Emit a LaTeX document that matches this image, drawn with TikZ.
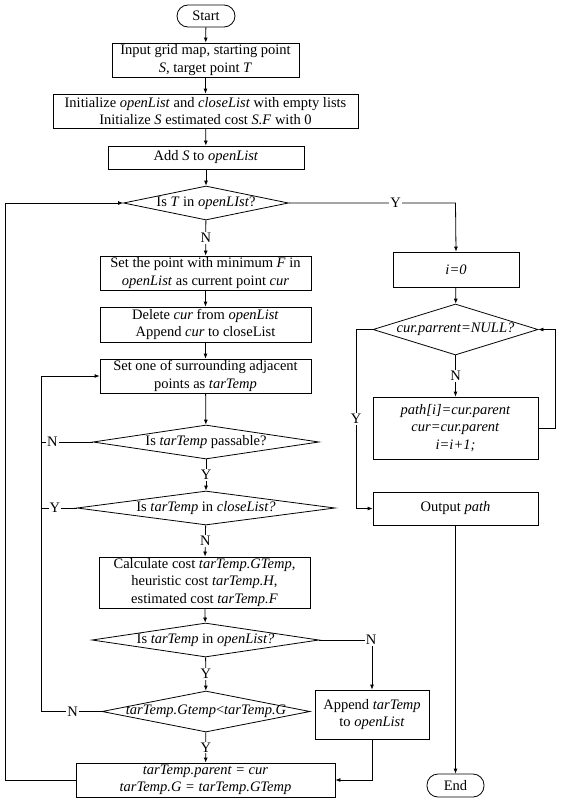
\documentclass[tikz,border=0pt]{standalone}
\usepackage{fontspec}
\setmainfont{Liberation Serif}
\usetikzlibrary{shapes.geometric,arrows.meta}
\begin{document}
\begin{tikzpicture}[x=1pt,y=-1pt,
  every node/.style={font=\fontsize{14.5}{17.5}\selectfont},
  box/.style={draw, line width=0.8pt, align=center, inner sep=0pt},
  term/.style={draw, line width=0.8pt, rounded corners=11pt, inner sep=0pt},
  dia/.style={draw, line width=0.8pt, diamond, inner sep=0pt, aspect=1},
  lab/.style={fill=white, inner sep=1pt},
  conn/.style={line width=0.8pt, -{Latex[length=5pt,width=4pt]}},
  plain/.style={line width=0.8pt}]
\useasboundingbox (0,0) rectangle (561,806);
% left column
\node[term, minimum width=58pt, minimum height=22pt] (start) at (206,16) {Start};
\node[box, minimum width=187pt, minimum height=34pt] (b1) at (205.5,60) {Input grid map, starting point\\\textit{S}, target point \textit{T}};
\node[box, minimum width=305pt, minimum height=34pt] (b2) at (205.5,111) {Initialize \textit{openList} and \textit{closeList} with empty lists\\Initialize \textit{S} estimated cost \textit{S.F} with 0};
\node[box, minimum width=196pt, minimum height=23pt] (b3) at (206,157.5) {Add \textit{S} to \textit{openList}};
\node[dia, minimum width=165pt, minimum height=34pt] (d1) at (206,203) {\makebox[0pt]{Is \textit{T} in \textit{openLIst}?}};
\node[box, minimum width=211pt, minimum height=34pt] (b4) at (205.5,273) {Set the point with minimum \textit{F} in\\\textit{openList} as current point \textit{cur}};
\node[box, minimum width=211pt, minimum height=35pt] (b5) at (205.5,324.5) {Delete \textit{cur} from \textit{openList}\\Append \textit{cur} to closeList};
\node[box, minimum width=211pt, minimum height=34pt] (b6) at (205.5,376) {Set one of surrounding adjacent\\points as \textit{tarTemp}};
\node[dia, minimum width=226pt, minimum height=34pt] (d3) at (206,442) {\makebox[0pt]{Is \textit{tarTemp} passable?}};
\node[dia, minimum width=258pt, minimum height=34pt] (d4) at (206,508) {\makebox[0pt]{Is \textit{tarTemp} in \textit{closeList?}}};
\node[box, minimum width=211pt, minimum height=51pt] (b7) at (204.5,582.5) {Calculate cost \textit{tarTemp.GTemp},\\heuristic cost \textit{tarTemp.H},\\estimated cost \textit{tarTemp.F}};
\node[dia, minimum width=227pt, minimum height=34pt] (d5) at (205.5,640) {\makebox[0pt]{Is \textit{tarTemp} in \textit{openList?}}};
\node[dia, minimum width=208pt, minimum height=41pt] (d6) at (206,711.5) {\makebox[0pt]{\textit{tarTemp.Gtemp}<\textit{tarTemp.G}}};
\node[box, minimum width=114pt, minimum height=49pt] (ap) at (372,714.5) {Append \textit{tarTemp}\\to \textit{openList}};
\node[box, minimum width=259pt, minimum height=34pt] (b8) at (205.5,780) {\textit{tarTemp.parent = cur}\\\textit{tarTemp.G = tarTemp.GTemp}};
% right column
\node[box, minimum width=126pt, minimum height=35pt] (i0) at (456,269.5) {\textit{i=0}};
\node[dia, minimum width=165pt, minimum height=51pt] (d2) at (455.5,329.5) {\makebox[0pt]{\textit{cur.parrent=NULL?}}};
\node[box, minimum width=165pt, minimum height=62pt] (pb) at (455.5,428) {\textit{path[i]=cur.parent}\\\textit{cur=cur.parent}\\\textit{i=i+1;}};
\node[box, minimum width=165pt, minimum height=33pt] (out) at (455.5,508.5) {Output \textit{path}};
\node[term, minimum width=57pt, minimum height=23pt] (end) at (455.5,785.5) {End};
% coordinates
\coordinate (c1) at (455.5,203);
\coordinate (c2a) at (555,428);
\coordinate (c2b) at (555,329.5);
\coordinate (c3a) at (356,329.5);
\coordinate (c3b) at (356,508.5);
\coordinate (c5) at (372,640);
\coordinate (c8) at (372,780);
\coordinate (l6) at (41,711.5);
\coordinate (l6top) at (41,376);
\coordinate (l3) at (41,442);
\coordinate (l4) at (41,508);
\coordinate (o8) at (5,780);
\coordinate (o1) at (5,203);
% main connectors
\draw[conn] (start) -- (b1);
\draw[conn] (b1) -- (b2);
\draw[conn] (b2) -- (b3);
\draw[conn] (b3) -- (d1);
\draw[conn] (d1) -- node[lab]{N} (b4);
\draw[conn] (b4) -- (b5);
\draw[conn] (b5) -- (b6);
\draw[conn] (b6) -- (d3);
\draw[conn] (d3) -- node[lab]{Y} (d4);
\draw[conn] (d4) -- node[lab]{N} (b7);
\draw[conn] (b7) -- (d5);
\draw[conn] (d5) -- node[lab]{Y} (d6);
\draw[conn] (d6) -- node[lab]{Y} (b8);
\draw[conn] (d5.east) -- (c5) -- (ap.north);
\node[lab] (n5) at (371,640) {N};
\draw[conn] (ap.south) -- (c8) -- (b8.east);
% inner loop
\draw[conn] (d6.west) -- node[lab, pos=0.48]{N} (l6) -- (l6top) -- (b6.west);
\draw[plain] (d3.west) -- node[lab, pos=0.78]{N} (l3);
\draw[plain] (d4.west) -- node[lab, pos=0.61]{Y} (l4);
% outer loop
\draw[conn] (b8.west) -- (o8) -- (o1) -- (d1.west);
% right column connectors
\draw[conn] (d1.east) -- node[lab, pos=0.64]{Y} (c1) -- (i0.north);
\draw[conn] (i0) -- (d2);
\draw[conn] (d2) -- node[lab]{N} (pb);
\draw[conn] (pb.east) -- (c2a) -- (c2b) -- (d2.east);
\draw[conn] (d2.west) -- (c3a) -- node[lab]{Y} (c3b) -- (out.west);
\draw[conn] (out) -- (end);
\end{tikzpicture}
\end{document}
